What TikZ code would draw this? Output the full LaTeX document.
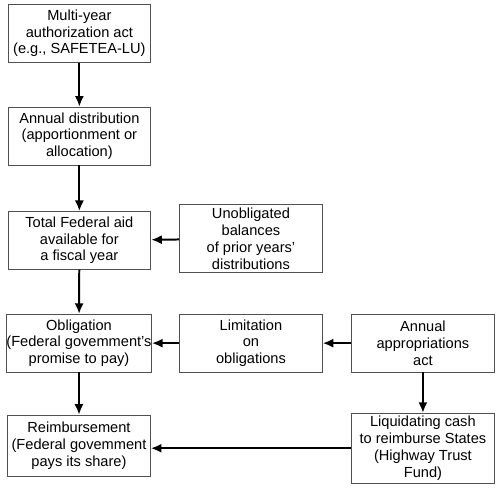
\documentclass[tikz,border=0pt]{standalone}
\usepackage{fontspec}
\setmainfont{Liberation Sans}
\usepackage{tikz}
\usetikzlibrary{arrows.meta}
\definecolor{boxline}{HTML}{505050}
\tikzset{
  stagebox/.style={draw=boxline, line width=0.6pt, fill=white, align=center,
    minimum width=3.78cm, minimum height=1.53cm, inner xsep=0pt, inner ysep=1.5pt,
    font=\fontsize{11}{12.6}\selectfont},
  tallbox/.style={stagebox, minimum height=1.8cm},
  flow/.style={-{Latex[length=2.8mm, width=2.4mm]}, line width=1.5pt, draw=black}
}
\begin{document}
\begin{tikzpicture}
  \useasboundingbox (0,0) rectangle (13.23,12.94);

  \node[stagebox] (auth) at (2.10,12.06) {Multi-year\\authorization act\\(e.g., SAFETEA-LU)};
  \node[stagebox] (distr) at (2.10,9.34) {Annual distribution\\(apportionment or\\allocation)};
  \node[stagebox] (total) at (2.10,6.58) {Total Federal aid\\available for\\a fiscal year};
  \node[tallbox] (unobl) at (6.64,6.62) {Unobligated\\balances\\of prior years'\\distributions};
  \node[stagebox] (oblig) at (2.09,3.86) {Obligation\\(Federal govemment's\\promise to pay)};
  \node[stagebox] (limit) at (6.64,3.86) {Limitation\\on\\obligations};
  \node[stagebox] (approp) at (11.19,3.86) {Annual\\appropriations\\act};
  \node[stagebox, minimum height=1.61cm] (reimb) at (2.09,1.15) {Reimbursement\\(Federal govemment\\pays its share)};
  \node[tallbox, minimum height=1.85cm] (liquid) at (11.19,1.08) {Liquidating cash\\to reimburse States\\(Highway Trust\\Fund)};

  \draw[flow] (auth) -- (distr);
  \draw[flow] (distr) -- (total);
  \draw[flow] (unobl) -- (total);
  \draw[flow] (total) -- (oblig);
  \draw[flow] (limit) -- (oblig);
  \draw[flow] (approp) -- (limit);
  \draw[flow] (oblig) -- (reimb);
  \draw[flow] (approp) -- (liquid);
  \draw[flow] (liquid.west) -- (liquid.west -| reimb.east);
\end{tikzpicture}
\end{document}
